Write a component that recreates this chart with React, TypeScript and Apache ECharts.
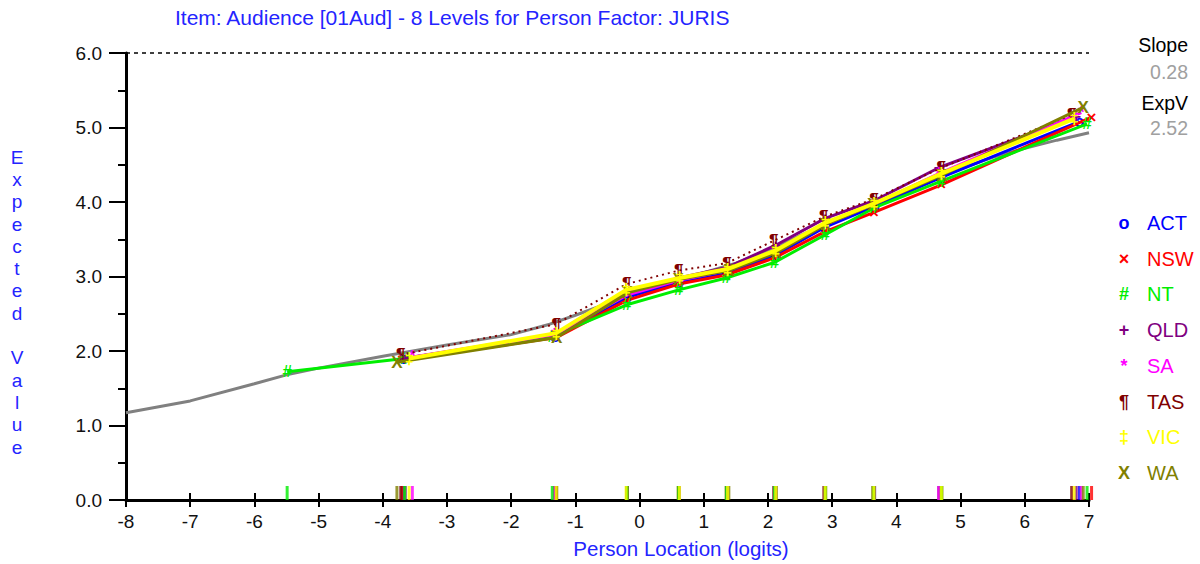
import React, { useEffect, useRef } from "react";
import * as echarts from "echarts";

const titleText = "Item: Audience [01Aud] - 8 Levels for Person Factor: JURIS";
const xAxisTitle = "Person Location (logits)";
const yAxisTitle = "Expected Value";
const slopeLabel = "Slope";
const slopeValue = "0.28";
const expVLabel = "ExpV";
const expVValue = "2.52";

// Model expected-score curve (grey)
const modelX = [-8, -7, -6, -5.5, -5, -4, -3, -2, -1.4, -1, -0.5, 0, 0.6, 1, 1.5, 2, 2.5, 3, 3.5, 4, 4.5, 5, 5.5, 6, 6.5, 7];
const modelY = [1.17, 1.33, 1.56, 1.68, 1.77, 1.93, 2.08, 2.22, 2.36, 2.48, 2.64, 2.78, 2.95, 3.05, 3.18, 3.35, 3.55, 3.74, 3.93, 4.1, 4.28, 4.45, 4.6, 4.72, 4.83, 4.93];

// Groups
const groupNames = ["ACT", "NSW", "NT", "QLD", "SA", "TAS", "VIC", "WA"];
const groupGlyphs = ["o", "×", "#", "+", "*", "¶", "‡", "X"];
const groupColors = ["#0000ff", "#ff0000", "#00ee00", "#800080", "#ff00ff", "#800000", "#ffff00", "#808000"];

const actX = [-3.68, -1.32, -0.2, 0.61, 1.36, 2.1, 2.88, 3.66, 4.7, 6.85];
const actY = [1.9, 2.2, 2.72, 2.92, 3.05, 3.28, 3.66, 3.94, 4.33, 5.08];
const nswX = [-3.7, -1.3, -0.2, 0.61, 1.35, 2.1, 2.88, 3.65, 4.7, 7.04];
const nswY = [1.88, 2.18, 2.68, 2.9, 3.02, 3.25, 3.6, 3.86, 4.23, 5.14];
const ntX = [-5.49, -3.66, -1.36, -0.2, 0.61, 1.35, 2.1, 2.89, 3.65, 4.7, 6.97];
const ntY = [1.72, 1.9, 2.2, 2.62, 2.82, 2.98, 3.19, 3.56, 3.92, 4.28, 5.05];
const qldX = [-3.65, -1.32, -0.2, 0.61, 1.36, 2.12, 2.89, 3.66, 4.66, 6.8];
const qldY = [1.9, 2.22, 2.78, 2.98, 3.12, 3.42, 3.78, 4.02, 4.46, 5.15];
const saX = [-3.54, -1.33, -0.2, 0.61, 1.36, 2.1, 2.89, 3.65, 4.66, 6.88];
const saY = [1.92, 2.22, 2.75, 2.95, 3.08, 3.33, 3.7, 3.97, 4.38, 5.2];
const tasX = [-3.72, -1.3, -0.2, 0.61, 1.36, 2.09, 2.87, 3.65, 4.7, 6.73];
const tasY = [1.95, 2.36, 2.9, 3.08, 3.18, 3.48, 3.8, 4.04, 4.46, 5.17];
const vicX = [-3.59, -1.3, -0.21, 0.62, 1.37, 2.12, 2.89, 3.65, 4.7, 6.77];
const vicY = [1.9, 2.24, 2.82, 2.98, 3.1, 3.35, 3.72, 3.98, 4.38, 5.12];
const waX = [-3.78, -1.29, -0.19, 0.6, 1.39, 2.13, 2.9, 3.63, 4.71, 6.91];
const waY = [1.85, 2.18, 2.78, 2.96, 3.08, 3.32, 3.7, 3.96, 4.36, 5.27];

const groupXs = [actX, nswX, ntX, qldX, saX, tasX, vicX, waX];
const groupYs = [actY, nswY, ntY, qldY, saY, tasY, vicY, waY];
// drawing order of lines (VIC on top)
const lineOrder = [0, 1, 2, 3, 4, 5, 7, 6];
// drawing order of rug ticks (bottom to top)
const rugOrder = [0, 1, 3, 5, 4, 7, 2, 6];

const FONT = "'Liberation Sans', Arial, sans-serif";
const BLUE = "#2424ff";

export default function App() {
  const ref = useRef<HTMLDivElement>(null);
  useEffect(() => {
    if (!ref.current) return;
    const chart = echarts.init(ref.current, null, { renderer: "svg" });

    const zip = (xs: number[], ys: number[]) => xs.map((x, i) => [x, ys[i]]);

    const series: any[] = [];
    series.push({
      type: "line",
      name: "Model",
      data: zip(modelX, modelY),
      symbol: "none",
      lineStyle: { color: "#808080", width: 3 },
      silent: true,
      z: 2,
      markLine: {
        symbol: "none",
        silent: true,
        label: { show: false },
        lineStyle: { color: "#000", type: [4, 4], width: 1.5 },
        data: [{ yAxis: 6 }],
      },
    });

    lineOrder.forEach((gi, k) => {
      series.push({
        type: "line",
        name: groupNames[gi],
        data: zip(groupXs[gi], groupYs[gi]),
        clip: false,
        symbol: "circle",
        symbolSize: 1,
        showSymbol: true,
        itemStyle: { color: "rgba(0,0,0,0)" },
        lineStyle: {
          color: groupColors[gi],
          width: gi === 5 ? 2 : gi === 6 ? 4 : 3,
          type: gi === 5 ? [2, 4] : "solid",
        },
        label: {
          show: true,
          position: "inside",
          formatter: () => groupGlyphs[gi],
          color: groupColors[gi],
          fontSize: 17,
          fontWeight: "bold",
          fontFamily: FONT,
        },
        silent: true,
        z: 3 + k,
      });
    });

    // rug ticks along the x axis
    rugOrder.forEach((gi, k) => {
      series.push({
        type: "scatter",
        name: groupNames[gi] + " rug",
        data: groupXs[gi].map((x) => [x, 0]),
        clip: false,
        symbol: "rect",
        symbolSize: [3, 14],
        symbolOffset: [0, -7],
        itemStyle: { color: groupColors[gi] },
        silent: true,
        z: 20 + k,
      });
    });

    const graphics: any[] = [
      {
        type: "text",
        x: 175,
        y: 17,
        style: { text: titleText, fill: BLUE, font: `21px ${FONT}`, textVerticalAlign: "middle" },
      },
      {
        type: "text",
        x: 17,
        y: 146,
        style: {
          text: yAxisTitle.split("").join("\n"),
          fill: BLUE,
          font: `19px ${FONT}`,
          lineHeight: 22.3,
          textAlign: "center",
        },
      },
      {
        type: "text",
        x: 681,
        y: 548,
        style: { text: xAxisTitle, fill: BLUE, font: `20.5px ${FONT}`, textAlign: "center", textVerticalAlign: "middle" },
      },
      { type: "text", x: 1188, y: 45, style: { text: slopeLabel, fill: "#000", font: `19.5px ${FONT}`, textAlign: "right", textVerticalAlign: "middle" } },
      { type: "text", x: 1188, y: 72, style: { text: slopeValue, fill: "#a0a0a0", font: `19.5px ${FONT}`, textAlign: "right", textVerticalAlign: "middle" } },
      { type: "text", x: 1188, y: 103, style: { text: expVLabel, fill: "#000", font: `19.5px ${FONT}`, textAlign: "right", textVerticalAlign: "middle" } },
      { type: "text", x: 1188, y: 128, style: { text: expVValue, fill: "#a0a0a0", font: `19.5px ${FONT}`, textAlign: "right", textVerticalAlign: "middle" } },
    ];
    groupNames.forEach((name, i) => {
      const y = 223 + i * 35.7;
      graphics.push({
        type: "text",
        x: 1124,
        y,
        style: { text: groupGlyphs[i], fill: groupColors[i], font: `bold 18px ${FONT}`, textAlign: "center", textVerticalAlign: "middle" },
      });
      graphics.push({
        type: "text",
        x: 1147,
        y,
        style: { text: name, fill: groupColors[i], font: `20px ${FONT}`, textAlign: "left", textVerticalAlign: "middle" },
      });
    });

    chart.setOption({
      animation: false,
      backgroundColor: "#fff",
      grid: { left: 126, right: 111, top: 53, bottom: 64, containLabel: false },
      xAxis: [
        {
          type: "value",
          min: -8,
          max: 7,
          interval: 1,
          axisLine: { show: true, onZero: false, lineStyle: { color: "#000", width: 3 } },
          axisTick: { show: true, length: 7, lineStyle: { color: "#000", width: 2 } },
          axisLabel: { color: "#111", fontSize: 19, fontFamily: FONT, margin: 12 },
          splitLine: { show: false },
        },
        {
          type: "value",
          min: -8,
          max: 7,
          interval: 1,
          position: "bottom",
          axisLine: { show: false },
          axisTick: { show: true, inside: true, length: 7, lineStyle: { color: "#000", width: 2 } },
          axisLabel: { show: false },
          splitLine: { show: false },
        },
      ],
      yAxis: {
        type: "value",
        min: 0,
        max: 6,
        interval: 1,
        axisLine: { show: true, onZero: false, lineStyle: { color: "#000", width: 3 } },
        axisTick: { show: true, length: 17, lineStyle: { color: "#000", width: 2 } },
        minorTick: { show: true, splitNumber: 2, length: 8, lineStyle: { color: "#000", width: 2 } },
        axisLabel: {
          color: "#111",
          fontSize: 19,
          fontFamily: FONT,
          margin: 24,
          formatter: (v: number) => v.toFixed(1),
        },
        splitLine: { show: false },
      },
      graphic: graphics,
      series,
    });

    return () => chart.dispose();
  }, []);

  return (
    <div
      ref={ref}
      style={{ position: "fixed", left: 0, top: 0, width: 1200, height: 564, background: "#fff" }}
    />
  );
}
